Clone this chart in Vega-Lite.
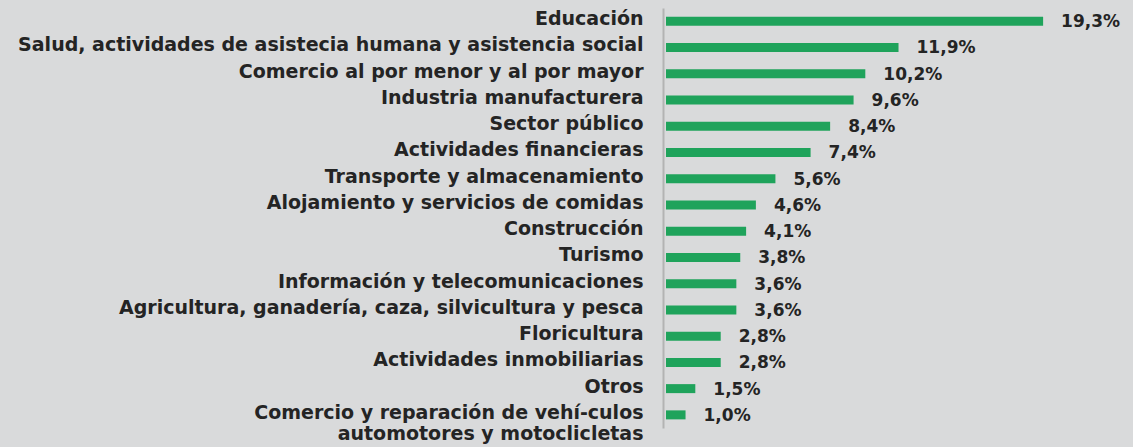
{
  "$schema": "https://vega.github.io/schema/vega-lite/v6.json",
  "autosize": {"type": "none"},
  "width": 467,
  "height": 420,
  "padding": {"left": 666, "top": 8, "right": 0, "bottom": 19},
  "background": "#d9dadb",
  "data": {"values": [
    {"sector": "Educación", "valor": 19.3, "texto": "19,3%"},
    {"sector": "Salud, actividades de asistecia humana y asistencia social", "valor": 11.9, "texto": "11,9%"},
    {"sector": "Comercio al por menor y al por mayor", "valor": 10.2, "texto": "10,2%"},
    {"sector": "Industria manufacturera", "valor": 9.6, "texto": "9,6%"},
    {"sector": "Sector público", "valor": 8.4, "texto": "8,4%"},
    {"sector": "Actividades financieras", "valor": 7.4, "texto": "7,4%"},
    {"sector": "Transporte y almacenamiento", "valor": 5.6, "texto": "5,6%"},
    {"sector": "Alojamiento y servicios de comidas", "valor": 4.6, "texto": "4,6%"},
    {"sector": "Construcción", "valor": 4.1, "texto": "4,1%"},
    {"sector": "Turismo", "valor": 3.8, "texto": "3,8%"},
    {"sector": "Información y telecomunicaciones", "valor": 3.6, "texto": "3,6%"},
    {"sector": "Agricultura, ganadería, caza, silvicultura y pesca", "valor": 3.6, "texto": "3,6%"},
    {"sector": "Floricultura", "valor": 2.8, "texto": "2,8%"},
    {"sector": "Actividades inmobiliarias", "valor": 2.8, "texto": "2,8%"},
    {"sector": "Otros", "valor": 1.5, "texto": "1,5%"},
    {"sector": "Comercio y reparación de vehí-culos |automotores y motoclicletas", "valor": 1.0, "texto": "1,0%"}
  ]},
  "encoding": {
    "y": {
      "field": "sector", "type": "nominal", "sort": null,
      "scale": {"paddingInner": 0.66, "paddingOuter": 0.33},
      "axis": {
        "title": null, "ticks": false, "offset": 3,
        "domainColor": "#b3b3b3", "domainWidth": 2,
        "labelFont": "DejaVu Sans", "labelFontSize": 19, "labelFontWeight": "bold",
        "labelColor": "#242424", "labelPadding": 20, "labelLimit": 800,
        "labelBaseline": "top", "labelOffset": -11, "labelLineHeight": 21,
        "labelExpr": "split(datum.label, '|')"
      }
    },
    "x": {
      "field": "valor", "type": "quantitative",
      "scale": {"domain": [0, 23.9], "nice": false},
      "axis": null
    }
  },
  "layer": [
    {"mark": {"type": "bar", "color": "#1fa35b", "size": 9}},
    {"mark": {"type": "text", "align": "left", "baseline": "middle", "dx": 18, "dy": 1,
              "font": "DejaVu Sans", "fontSize": 17, "fontWeight": "bold", "color": "#242424"},
     "encoding": {"text": {"field": "texto"}}}
  ],
  "config": {"view": {"stroke": null}}
}
